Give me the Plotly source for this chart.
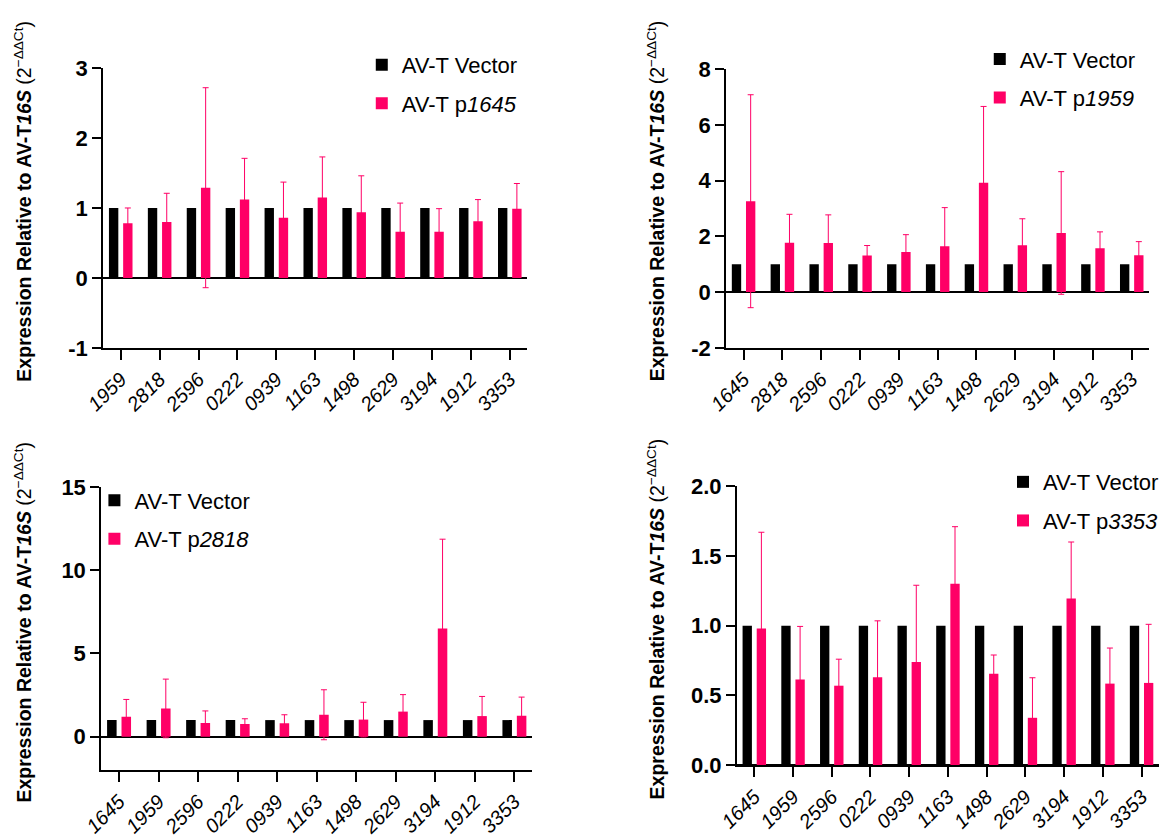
import plotly.graph_objects as go

# ---------------- data ----------------
cats_p1645 = ["1959", "2818", "2596", "0222", "0939", "1163", "1498", "2629", "3194", "1912", "3353"]
vector_p1645 = [1, 1, 1, 1, 1, 1, 1, 1, 1, 1, 1]
mean_p1645 = [0.78, 0.80, 1.29, 1.12, 0.86, 1.15, 0.94, 0.66, 0.66, 0.81, 0.99]
sd_p1645 = [0.22, 0.41, 1.43, 0.59, 0.51, 0.58, 0.52, 0.41, 0.33, 0.31, 0.36]

cats_p1959 = ["1645", "2818", "2596", "0222", "0939", "1163", "1498", "2629", "3194", "1912", "3353"]
vector_p1959 = [1, 1, 1, 1, 1, 1, 1, 1, 1, 1, 1]
mean_p1959 = [3.26, 1.77, 1.76, 1.31, 1.44, 1.64, 3.92, 1.68, 2.12, 1.57, 1.32]
sd_p1959 = [3.82, 1.02, 1.01, 0.36, 0.62, 1.39, 2.74, 0.95, 2.20, 0.59, 0.49]

cats_p2818 = ["1645", "1959", "2596", "0222", "0939", "1163", "1498", "2629", "3194", "1912", "3353"]
vector_p2818 = [1, 1, 1, 1, 1, 1, 1, 1, 1, 1, 1]
mean_p2818 = [1.20, 1.70, 0.83, 0.77, 0.81, 1.32, 1.03, 1.51, 6.50, 1.24, 1.26]
sd_p2818 = [1.04, 1.76, 0.72, 0.31, 0.51, 1.50, 1.04, 1.02, 5.36, 1.18, 1.12]

cats_p3353 = ["1645", "1959", "2596", "0222", "0939", "1163", "1498", "2629", "3194", "1912", "3353"]
vector_p3353 = [1, 1, 1, 1, 1, 1, 1, 1, 1, 1, 1]
mean_p3353 = [0.98, 0.615, 0.57, 0.63, 0.74, 1.30, 0.655, 0.34, 1.195, 0.585, 0.59]
sd_p3353 = [0.69, 0.38, 0.19, 0.405, 0.55, 0.41, 0.135, 0.287, 0.405, 0.255, 0.42]

panels = [
    ("1645", cats_p1645, vector_p1645, mean_p1645, sd_p1645),
    ("1959", cats_p1959, vector_p1959, mean_p1959, sd_p1959),
    ("2818", cats_p2818, vector_p2818, mean_p2818, sd_p2818),
    ("3353", cats_p3353, vector_p3353, mean_p3353, sd_p3353),
]

# ---------------- style ----------------
W, H = 1164, 838
FONT = "Liberation Sans, Arial, Helvetica, sans-serif"
PINK = "#FF0066"
BLACK = "#000000"


def px_x(v):
    return v / W


def px_y(v):
    return 1 - v / H


# plot areas in pixels: (left, right, top, bottom)
areas = [
    (86, 519, 58, 347),
    (722, 1154, 59, 347),
    (84, 524, 490.7, 783.3),
    (733, 1164, 490, 778.3),
]
yranges = [[-1, 3], [-2, 8], [-2, 15], [0, 2]]
ytickvals = [[-1, 0, 1, 2, 3], [-2, 0, 2, 4, 6, 8], [0, 5, 10, 15], [0, 0.5, 1.0, 1.5, 2.0]]
yticktext = [["-1", "0", "1", "2", "3"], ["-2", "0", "2", "4", "6", "8"], ["0", "5", "10", "15"],
             ["0.0", "0.5", "1.0", "1.5", "2.0"]]
# legend positions (left px, top px)
legend_pos = [(350, 33), (981, 27), (77, 483), (1005, 464)]
# y title centers (x px, y px)
title_pos = [(4, 195), (650, 195), (4, 630), (650, 627)]

fig = go.Figure()
layout = dict(
    width=W, height=H,
    margin=dict(l=0, r=0, t=0, b=0),
    paper_bgcolor="white", plot_bgcolor="white",
    barmode="group", bargap=0.27, bargroupgap=0.34,
    font=dict(family=FONT, color="black"),
    annotations=[],
)

for i, (name, cats, vec, mean, sd) in enumerate(panels):
    k = "" if i == 0 else str(i + 1)
    xa, ya = "x" + k, "y" + k
    leg = "legend" + k
    fig.add_trace(go.Bar(
        x=cats, y=vec, name="AV-T Vector", marker=dict(color=BLACK, line=dict(width=0)),
        xaxis=xa, yaxis=ya, legend=leg, legendgroup="v" + k, showlegend=True,
    ))
    fig.add_trace(go.Bar(
        x=cats, y=mean, name="AV-T p<i>" + name + "</i>",
        marker=dict(color=PINK, line=dict(width=0)),
        error_y=dict(type="data", array=sd, symmetric=True, color=PINK, thickness=1, width=3),
        xaxis=xa, yaxis=ya, legend=leg, legendgroup="p" + k, showlegend=True,
    ))
    l, r, t, b = areas[i]
    layout["xaxis" + k] = dict(
        type="category", domain=[px_x(l), px_x(r)], anchor=ya,
        range=[-0.45, 10.45],
        showline=True, linecolor="black", linewidth=2,
        ticks="outside", ticklen=10, tickwidth=2, tickcolor="black",
        tickangle=-45, tickfont=dict(family=FONT, size=20, style="italic", color="black"),
        showgrid=False, zeroline=False,
    )
    layout["yaxis" + k] = dict(
        domain=[px_y(b), px_y(t)], anchor=xa, range=yranges[i],
        tickvals=ytickvals[i], ticktext=yticktext[i],
        showline=True, linecolor="black", linewidth=2,
        ticks="outside", ticklen=9, tickwidth=2, tickcolor="black",
        tickfont=dict(family=FONT, size=22, weight="bold", color="black"),
        showgrid=False, zeroline=True, zerolinecolor="black", zerolinewidth=2,
    )
    lx, ly = legend_pos[i]
    layout[leg] = dict(
        x=px_x(lx), y=px_y(ly), xanchor="left", yanchor="top",
        bgcolor="rgba(0,0,0,0)", borderwidth=0,
        font=dict(family=FONT, size=22, color="black"),
        tracegroupgap=7, traceorder="grouped",
    )
    tx, ty = title_pos[i]
    layout["annotations"].append(dict(
        text="<b>Expression Relative to AV-T<i>16S</i></b> (2<sup>−ΔΔCt</sup>)",
        x=px_x(tx), y=px_y(ty), xref="paper", yref="paper",
        xanchor="center", yanchor="middle", textangle=-90, showarrow=False,
        font=dict(family=FONT, size=19.5, color="black"),
    ))

fig.update_layout(**layout)
fig.write_html("out.html")
